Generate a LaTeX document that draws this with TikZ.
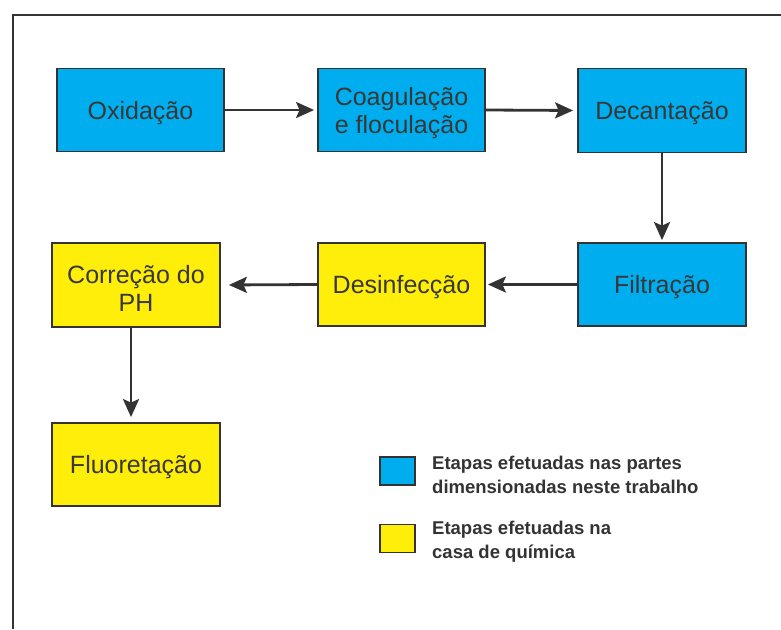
\documentclass[tikz,border=0pt]{standalone}
\usepackage{fontspec}
\setmainfont{Liberation Sans}
\usetikzlibrary{arrows.meta}
\definecolor{boxblue}{HTML}{00AEEF}
\definecolor{boxyellow}{HTML}{FFED0A}
\definecolor{linegray}{HTML}{333333}
\definecolor{textgray}{HTML}{383838}
\newcommand\lowr[1]{\raisebox{-3pt}[\height][\depth]{#1}}
\tikzset{
  stepbox/.style={draw=linegray, line width=1.8pt, rectangle, minimum width=167pt, minimum height=83pt,
    inner sep=0pt, align=center, text=textgray, font=\fontsize{25}{28}\selectfont},
  bluebox/.style={stepbox, fill=boxblue},
  yellowbox/.style={stepbox, fill=boxyellow},
  arr/.style={draw=linegray, line width=2.8pt, -{Stealth[length=18pt, width=16pt, inset=3.5pt]}},
  legsq/.style={draw=linegray, line width=1.6pt, rectangle, minimum width=35pt, minimum height=28pt, inner sep=0pt},
  legtext/.style={anchor=north west, align=left, inner sep=0pt, text=linegray,
    font=\fontsize{18.5}{24}\selectfont\bfseries},
}
\begin{document}
\begin{tikzpicture}[x=1pt, y=-1pt]
\useasboundingbox (0,0) rectangle (781,629);
% outer frame (only left and top visible)
\draw[linegray, line width=2.4pt] (13,629) -- (13,15) -- (781,15);

% process boxes
\node[bluebox] (oxi) at (140.5,110) {\lowr{Oxidação}};
\node[bluebox] (coag) at (401.5,110) {\lowr{Coagulação}\\\lowr{e floculação}};
\node[bluebox, minimum width=168pt, minimum height=84pt] (dec) at (662,110.5) {\lowr{Decantação}};
\node[bluebox, minimum width=168pt] (filt) at (662,284.5) {\lowr{Filtração}};
\node[yellowbox] (des) at (401.5,284.5) {\lowr{Desinfecção}};
\node[yellowbox, minimum width=168pt, minimum height=84pt] (corr) at (136,285) {\lowr{Correção do}\\\lowr{PH}};
\node[yellowbox, minimum width=168pt] (fluor) at (136,464.5) {\lowr{Fluoretação}};

% connectors
\draw[arr, shorten >=3pt] (oxi.east) -- (coag.west);
\draw[arr, shorten >=4pt] (coag.east) -- (dec.west);
\draw[arr, shorten >=2pt] (dec.south) -- (filt.north);
\draw[arr, shorten >=2pt] (filt.west) -- (des.east);
\draw[arr, shorten >=8pt] (des.west) -- (corr.east);
\draw[arr, shorten >=5pt] ([xshift=-5pt]corr.south) -- ([xshift=-5pt]fluor.north);

% legend
\node[legsq, fill=boxblue] (legb) at (397.5,471) {};
\node[legsq, fill=boxyellow] (legy) at (397.5,538.5) {};
\node[legtext] (legbt) at (432,456) {Etapas efetuadas nas partes\\dimensionadas neste trabalho};
\node[legtext] (legyt) at (432,521) {Etapas efetuadas na\\casa de química};
\end{tikzpicture}
\end{document}
